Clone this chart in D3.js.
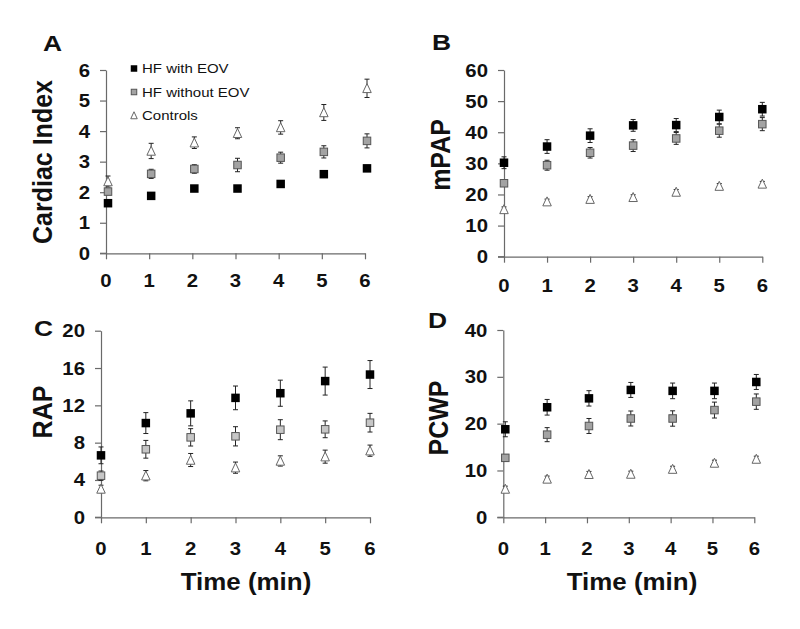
<!DOCTYPE html>
<html>
<head>
<meta charset="utf-8">
<script src="https://cdn.jsdelivr.net/npm/d3@7"></script>
<style>
  html, body { margin: 0; padding: 0; background: #fff; }
  svg { display: block; font-family: "Liberation Sans", Arial, sans-serif; }
</style>
</head>
<body>
<svg id="chart" width="800" height="629"></svg>
<script>
// ---------- DATA ----------
const times = [0, 1, 2, 3, 4, 5, 6];
const seriesNames = ["HF with EOV", "HF without EOV", "Controls"];

// Panel A: Cardiac Index
const ciWithEOV        = [1.64, 1.88, 2.12, 2.12, 2.27, 2.59, 2.78];
const ciWithEOVErr     = [0.08, 0.08, 0.07, 0.07, 0.07, 0.08, 0.10];
const ciWithoutEOV     = [2.02, 2.60, 2.76, 2.89, 3.13, 3.32, 3.68];
const ciWithoutEOVErr  = [0.10, 0.15, 0.14, 0.22, 0.18, 0.20, 0.23];
const ciControls       = [2.35, 3.35, 3.62, 3.93, 4.12, 4.61, 5.40];
const ciControlsErr    = [0.18, 0.25, 0.19, 0.18, 0.22, 0.26, 0.30];
const ciTicks = [0, 1, 2, 3, 4, 5, 6];

// Panel B: mPAP
const mpapWithEOV       = [30.2, 35.4, 38.9, 42.2, 42.3, 44.9, 47.4];
const mpapWithEOVErr    = [1.9, 2.2, 2.2, 1.9, 2.1, 2.2, 2.2];
const mpapWithoutEOV    = [23.6, 29.4, 33.4, 35.7, 38.0, 40.5, 42.6];
const mpapWithoutEOVErr = [1.0, 1.6, 1.7, 1.9, 1.9, 2.1, 2.1];
const mpapControls      = [15.2, 17.7, 18.5, 19.1, 20.8, 22.7, 23.4];
const mpapControlsErr   = [0.8, 0.8, 0.8, 0.8, 0.8, 0.8, 0.8];
const mpapTicks = [0, 10, 20, 30, 40, 50, 60];

// Panel C: RAP
const rapWithEOV       = [6.64, 10.1, 11.14, 12.8, 13.3, 14.6, 15.3];
const rapWithEOVErr    = [0.9, 1.12, 1.34, 1.27, 1.4, 1.5, 1.5];
const rapWithoutEOV    = [4.46, 7.29, 8.57, 8.68, 9.39, 9.43, 10.14];
const rapWithoutEOVErr = [0.5, 0.95, 0.93, 1.03, 1.07, 0.9, 1.0];
const rapControls      = [3.04, 4.46, 6.14, 5.32, 6.04, 6.5, 7.14];
const rapControlsErr   = [0.4, 0.55, 0.7, 0.6, 0.55, 0.7, 0.6];
const rapTicks = [0, 4, 8, 12, 16, 20];

// Panel D: PCWP
const pcwpWithEOV       = [18.8, 23.5, 25.4, 27.2, 27.0, 27.0, 28.9];
const pcwpWithEOVErr    = [1.6, 1.67, 1.64, 1.6, 1.67, 1.67, 1.6];
const pcwpWithoutEOV    = [12.7, 17.65, 19.5, 21.1, 21.1, 22.9, 24.7];
const pcwpWithoutEOVErr = [0.7, 1.5, 1.6, 1.6, 1.64, 1.7, 1.64];
const pcwpControls      = [6.05, 8.2, 9.2, 9.25, 10.3, 11.6, 12.45];
const pcwpControlsErr   = [0.6, 0.6, 0.6, 0.6, 0.6, 0.6, 0.6];
const pcwpTicks = [0, 10, 20, 30, 40];

const xLabel = "Time (min)";

// ---------- LAYOUT ----------
const panels = [
  { letter: "A", ylabel: "Cardiac Index", ticks: ciTicks,
    series: [[ciWithEOV, ciWithEOVErr], [ciWithoutEOV, ciWithoutEOVErr], [ciControls, ciControlsErr]],
    x0: 106, x1: 365, yBot: 253.3, yTop: 70, dx: 2, gray: "#a3a3a3",
    letterPos: [43, 51], ylabelPos: [52, 162], xTickBase: 287, legend: true, timeLabel: false },
  { letter: "B", ylabel: "mPAP", ticks: mpapTicks,
    series: [[mpapWithEOV, mpapWithEOVErr], [mpapWithoutEOV, mpapWithoutEOVErr], [mpapControls, mpapControlsErr]],
    x0: 504, x1: 762.3, yBot: 256.7, yTop: 70, dx: 0, gray: "#a3a3a3",
    letterPos: [432, 50], ylabelPos: [450, 155], xTickBase: 292, legend: false, timeLabel: false },
  { letter: "C", ylabel: "RAP", ticks: rapTicks,
    series: [[rapWithEOV, rapWithEOVErr], [rapWithoutEOV, rapWithoutEOVErr], [rapControls, rapControlsErr]],
    x0: 101, x1: 370, yBot: 517.3, yTop: 330.7, dx: 0, gray: "#c6c6c6",
    letterPos: [34, 336], ylabelPos: [52, 412], xTickBase: 555, legend: false, timeLabel: true, timeX: 246 },
  { letter: "D", ylabel: "PCWP", ticks: pcwpTicks,
    series: [[pcwpWithEOV, pcwpWithEOVErr], [pcwpWithoutEOV, pcwpWithoutEOVErr], [pcwpControls, pcwpControlsErr]],
    x0: 503.3, x1: 754.3, yBot: 517.3, yTop: 330, dx: 2, gray: "#a3a3a3",
    letterPos: [428, 328], ylabelPos: [448, 418], xTickBase: 555, legend: false, timeLabel: true, timeX: 632 }
];

const svg = d3.select("#chart");
const axisColor = "#6a6a6a";
const SX = 1.1;

function stretchedText(g, x, y, txt, size, anchor, sx) {
  return g.append("text")
    .attr("transform", `translate(${x},${y}) scale(${sx},1)`)
    .attr("text-anchor", anchor)
    .attr("font-size", size)
    .attr("font-weight", "bold")
    .attr("fill", "#111")
    .text(txt);
}

function drawMarker(g, kind, cx, cy, gray, size) {
  const s = size;
  if (kind === 0) {
    g.append("rect").attr("x", cx - s / 2).attr("y", cy - s / 2).attr("width", s).attr("height", s)
      .attr("fill", "#000");
  } else if (kind === 1) {
    g.append("rect").attr("x", cx - s / 2 + 0.5).attr("y", cy - s / 2 + 0.5).attr("width", s - 1).attr("height", s - 1)
      .attr("fill", gray).attr("stroke", "#555").attr("stroke-width", 1);
  } else {
    const w = s, h = s;
    g.append("path")
      .attr("d", `M${cx},${cy - h / 2 - 0.5} L${cx + w / 2},${cy + h / 2} L${cx - w / 2},${cy + h / 2} Z`)
      .attr("fill", "#fff").attr("stroke", "#666").attr("stroke-width", 1);
  }
}

panels.forEach(p => {
  const g = svg.append("g");
  const yMax = p.ticks[p.ticks.length - 1];
  const x = d3.scaleLinear().domain([0, 6]).range([p.x0, p.x1]);
  const y = d3.scaleLinear().domain([0, yMax]).range([p.yBot, p.yTop]);

  // Y axis
  const yAxis = d3.axisLeft(y).tickValues(p.ticks).tickSize(6).tickSizeOuter(0).tickFormat("");
  const yg = g.append("g").attr("transform", `translate(${p.x0},0)`).call(yAxis);
  yg.selectAll("path, line").attr("stroke", axisColor).attr("stroke-width", 1.2);
  // X axis
  const xAxis = d3.axisBottom(x).tickValues(times).tickSize(6).tickSizeOuter(0).tickFormat("");
  const xg = g.append("g").attr("transform", `translate(0,${p.yBot})`).call(xAxis);
  xg.selectAll("path, line").attr("stroke", axisColor).attr("stroke-width", 1.2);
  // x axis extends slightly left of y axis
  g.append("line").attr("x1", p.x0 - 6).attr("x2", p.x0).attr("y1", p.yBot).attr("y2", p.yBot)
    .attr("stroke", axisColor).attr("stroke-width", 1.2);

  // tick labels
  p.ticks.forEach(t => stretchedText(g, p.x0 - 16, y(t) + 6.5, String(t), 18.5, "end", SX));
  times.forEach(t => stretchedText(g, x(t), p.xTickBase, String(t), 18.5, "middle", SX));

  // Panel letter
  stretchedText(g, p.letterPos[0], p.letterPos[1], p.letter, 22, "start", 1.2);

  // Y label (rotated)
  g.append("text")
    .attr("transform", `translate(${p.ylabelPos[0]},${p.ylabelPos[1]}) rotate(-90) scale(1,1.1)`)
    .attr("text-anchor", "middle").attr("font-size", 25).attr("font-weight", "bold").attr("fill", "#111")
    .text(p.ylabel);

  if (p.timeLabel) stretchedText(g, p.timeX, 590, xLabel, 24, "middle", 1.08);

  // Error bars then markers
  const order = [2, 1, 0];
  order.forEach(si => {
    const [vals, errs] = p.series[si];
    vals.forEach((v, i) => {
      const cx = x(times[i]) + p.dx;
      const yt = y(v + errs[i]), yb = y(v - errs[i]);
      g.append("line").attr("x1", cx).attr("x2", cx).attr("y1", yt).attr("y2", yb)
        .attr("stroke", "#222").attr("stroke-width", 1);
      [yt, yb].forEach(yy => g.append("line").attr("x1", cx - 2.5).attr("x2", cx + 2.5)
        .attr("y1", yy).attr("y2", yy).attr("stroke", "#222").attr("stroke-width", 1));
    });
  });
  order.forEach(si => {
    const [vals] = p.series[si];
    vals.forEach((v, i) => drawMarker(g, si, x(times[i]) + p.dx, y(v), p.gray, 8.5));
  });

  if (p.legend) {
    const rows = [68.5, 92, 115.5];
    seriesNames.forEach((name, si) => {
      drawMarker(g, si, 134, rows[si], p.gray, 6.5);
      stretchedText(g, 142, rows[si] + 4.5, name, 12.5, "start", 1.2).attr("font-weight", "normal");
    });
  }
});
</script>
</body>
</html>
